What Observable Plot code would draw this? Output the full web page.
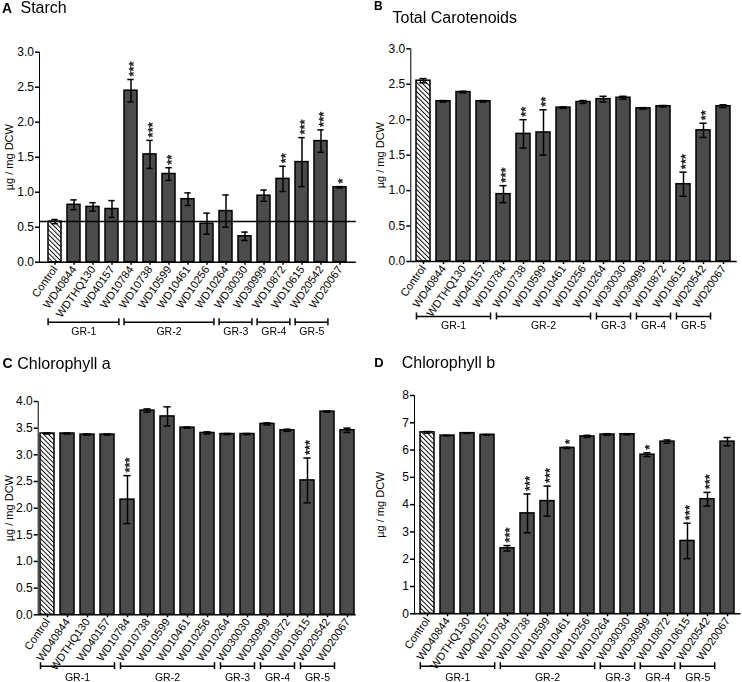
<!DOCTYPE html>
<html>
<head>
<meta charset="utf-8">
<script src="https://cdn.jsdelivr.net/npm/d3@7"></script>
<script src="https://cdn.jsdelivr.net/npm/@observablehq/plot@0.6"></script>
<style>
  body { margin: 0; background: #fff; font-family: "Liberation Sans", Arial, sans-serif; }
  #wrap { position: relative; width: 742px; height: 682px; overflow: hidden; background: #fff; }
  #wrap > svg { position: absolute; overflow: visible; }
</style>
</head>
<body>
<svg width="0" height="0" style="position:absolute">
  <defs>
    <pattern id="hatch" width="3.3" height="3.3" patternUnits="userSpaceOnUse" patternTransform="rotate(-45)">
      <rect width="3.3" height="3.3" fill="#fff"></rect>
      <line x1="0" y1="0" x2="0" y2="3.3" stroke="#000" stroke-width="1.9"></line>
    </pattern>
  </defs>
</svg>
<div id="wrap"></div>
<script>
// ---------------- data ----------------
const lines = ["Control","WD40844","WDTHQ130","WD40157","WD10784","WD10738","WD10599","WD10461","WD10256","WD10264","WD30030","WD30999","WD10872","WD10615","WD20542","WD20067"];

const starchMean = [0.58,0.82,0.79,0.76,2.45,1.54,1.26,0.90,0.55,0.73,0.37,0.95,1.19,1.43,1.73,1.07];
const starchSE   = [0.03,0.07,0.06,0.12,0.16,0.20,0.09,0.09,0.15,0.23,0.06,0.08,0.18,0.35,0.16,0.01];
const starchSig  = ["","","","","***","***","**","","","","","","**","***","***","*"];

const caroMean = [2.55,2.26,2.39,2.26,0.95,1.80,1.82,2.17,2.25,2.29,2.31,2.16,2.19,1.09,1.85,2.19];
const caroSE   = [0.03,0.01,0.01,0.01,0.12,0.20,0.32,0.01,0.02,0.04,0.02,0.01,0.01,0.17,0.10,0.02];
const caroSig  = ["","","","","***","**","**","","","","","","","***","**",""];

const chlaMean = [3.40,3.40,3.38,3.38,2.16,3.83,3.72,3.51,3.41,3.39,3.39,3.58,3.46,2.52,3.81,3.46];
const chlaSE   = [0.01,0.01,0.01,0.01,0.45,0.03,0.18,0.01,0.02,0.01,0.01,0.02,0.02,0.42,0.01,0.04];
const chlaSig  = ["","","","","***","","","","","","","","","***","",""];

const chlbMean = [6.65,6.53,6.62,6.56,2.40,3.68,4.13,6.08,6.50,6.57,6.58,5.83,6.31,2.67,4.20,6.31];
const chlbSE   = [0.03,0.01,0.01,0.01,0.10,0.71,0.55,0.02,0.04,0.03,0.02,0.07,0.06,0.65,0.25,0.15];
const chlbSig  = ["","","","","***","***","***","*","","","","*","","***","***",""];

const groupLabels = ["GR-1","GR-2","GR-3","GR-4","GR-5"];
const groupFirst  = ["Control","WD10784","WD10264","WD30999","WD10615"];
const groupLast   = ["WD40157","WD10256","WD30030","WD10872","WD20542"];

const ticks3 = [0,0.5,1,1.5,2,2.5,3];
const ticks4 = [0,0.5,1,1.5,2,2.5,3,3.5,4];
const ticks8 = [0,1,2,3,4,5,6,7,8];

const yLabel = "µg / mg DCW";
const panelTitles = ["Starch","Total Carotenoids","Chlorophyll a","Chlorophyll b"];
const panelLetters = ["A","B","C","D"];

// ---------------- layout ----------------
const FONT = '"Liberation Sans", Arial, sans-serif';
const W = 371, PI = 0.3;
const wrap = document.getElementById("wrap");

const panels = [
  {mean: starchMean, se: starchSE, sig: starchSig, ticks: ticks3, domain: [0,3], fmt: ".1f", controlLine: true,
   left: 0, top: 0, h: 342, mt: 51.7, mb: 80.3, ml: 39, mr: 15.2, po: 0.19, bDy: 60, lDy: 69.5},
  {mean: caroMean, se: caroSE, sig: caroSig, ticks: ticks3, domain: [0,3], fmt: ".1f", controlLine: false,
   left: 371, top: 0, h: 342, mt: 48.3, mb: 81, ml: 39.3, mr: 5.3, po: 0.25, bDy: 55, lDy: 64},
  {mean: chlaMean, se: chlaSE, sig: chlaSig, ticks: ticks4, domain: [0,4], fmt: ".1f", controlLine: false,
   left: 0, top: 340, h: 342, mt: 61, mb: 67.7, ml: 37.7, mr: 15.3, po: 0.1, bDy: 51.4, lDy: 62.4},
  {mean: chlbMean, se: chlbSE, sig: chlbSig, ticks: ticks8, domain: [0,8], fmt: "d", controlLine: false,
   left: 371, top: 340, h: 342, mt: 55, mb: 68.7, ml: 43, mr: 1.5, po: 0.1, bDy: 52.4, lDy: 63.4}
];

function makePanel(cfg) {
  const data = lines.map((name, i) => ({name, v: cfg.mean[i], e: cfg.se[i], sig: cfg.sig[i]}));
  const band = d3.scaleBand().domain(lines).range([cfg.ml, W - cfg.mr]).paddingInner(PI).paddingOuter(cfg.po);
  const bw = band.bandwidth(), step = band.step();
  const groups = groupLabels.map((label, i) => {
    const a = lines.indexOf(groupFirst[i]), b = lines.indexOf(groupLast[i]);
    const n = b - a + 1;
    const mid = n % 2 ? lines[a + (n - 1) / 2] : lines[a + n / 2 - 1];
    return {label, first: groupFirst[i], last: groupLast[i], mid, even: n % 2 === 0};
  });
  const stroke = 1.5;
  const marks = [
    Plot.barY(data.filter(d => d.name === "Control"), {x: "name", y: "v", fill: "url(#hatch)", stroke: "#000", strokeWidth: stroke}),
    Plot.barY(data.filter(d => d.name !== "Control"), {x: "name", y: "v", fill: "#4b4b4b", stroke: "#000", strokeWidth: stroke})
  ];
  if (cfg.controlLine) marks.push(Plot.ruleY([data[0].v], {stroke: "#000", strokeWidth: stroke}));
  marks.push(
    Plot.ruleX(data, {x: "name", y1: d => d.v - d.e, y2: d => d.v + d.e, stroke: "#000", strokeWidth: stroke}),
    Plot.tickY(data, {x: "name", y: d => d.v + d.e, insetLeft: bw * 0.24, insetRight: bw * 0.24, stroke: "#000", strokeWidth: stroke}),
    Plot.tickY(data, {x: "name", y: d => d.v - d.e, insetLeft: bw * 0.24, insetRight: bw * 0.24, stroke: "#000", strokeWidth: stroke}),
    Plot.ruleY([0], {stroke: "#000", strokeWidth: stroke}),
    // significance stars, written bottom-to-top
    Plot.text(data.filter(d => d.sig), {x: "name", y: d => d.v + d.e, text: "sig", rotate: -90, textAnchor: "start",
      dy: -3, dx: 2.5, fontSize: 13, fill: "#000", stroke: "#000", strokeWidth: 0.35}),
    // group brackets
    Plot.ruleY(groups, {x1: "first", x2: "last", y: () => 0, dy: cfg.bDy, stroke: "#000", strokeWidth: stroke}),
    Plot.ruleX(groups, {x: "first", y1: () => 0, y2: () => 0, dx: -bw / 2, dy: cfg.bDy, insetTop: -3.5, insetBottom: -3.5, stroke: "#000", strokeWidth: stroke}),
    Plot.ruleX(groups, {x: "last", y1: () => 0, y2: () => 0, dx: bw / 2, dy: cfg.bDy, insetTop: -3.5, insetBottom: -3.5, stroke: "#000", strokeWidth: stroke}),
    Plot.text(groups.filter(g => g.even), {x: "mid", y: () => 0, text: "label", dx: step / 2, dy: cfg.lDy, fontSize: 10.5, fill: "#000"}),
    Plot.text(groups.filter(g => !g.even), {x: "mid", y: () => 0, text: "label", dy: cfg.lDy, fontSize: 10.5, fill: "#000"})
  );
  const svg = Plot.plot({
    width: W, height: cfg.h,
    marginTop: cfg.mt, marginBottom: cfg.mb, marginLeft: cfg.ml, marginRight: cfg.mr,
    style: {fontFamily: FONT, fontSize: "11px", color: "#000", overflow: "visible", background: "transparent"},
    x: {type: "band", domain: lines, paddingInner: PI, paddingOuter: cfg.po, tickRotate: -55, tickSize: 3, tickPadding: 2, label: null},
    y: {domain: cfg.domain, ticks: cfg.ticks, tickFormat: cfg.fmt, tickSize: 4, tickPadding: 1.5,
        label: yLabel, labelAnchor: "center", labelArrow: false, labelOffset: cfg.ml - 5, line: true},
    marks
  });
  svg.style.left = cfg.left + "px";
  svg.style.top = cfg.top + "px";
  const s = d3.select(svg);
  s.selectAll('g[aria-label^="y-axis"], g[aria-label^="x-axis"]').attr("stroke-width", stroke);
  s.selectAll('g[aria-label^="y-axis"] text').attr("font-size", 12);
  s.selectAll('text').filter(function() { return this.textContent.trim().startsWith("µg"); })
    .attr("font-size", 11).text(yLabel);
  // render text marks in plain greyscale (avoid colour fringes on the rotated asterisks)
  s.selectAll('g[aria-label="text"]').style("filter", "grayscale(1)");
  wrap.appendChild(svg);
}
panels.forEach(makePanel);

// titles overlay
const titleSpec = [
  {lx: 2, ly: 12.5, ls: 14, tx: 20.5, ty: 13.3},
  {lx: 374, ly: 10, ls: 12, tx: 392.5, ty: 23},
  {lx: 2.5, ly: 368, ls: 14, tx: 17.3, ty: 369},
  {lx: 374.3, ly: 367, ls: 13, tx: 401.7, ty: 368}
];
const ov = d3.select(wrap).append("svg")
  .attr("width", 742).attr("height", 682)
  .style("left", "0px").style("top", "0px").style("pointer-events", "none")
  .attr("font-family", FONT);
titleSpec.forEach((t, i) => {
  ov.append("text").attr("x", t.lx).attr("y", t.ly).attr("font-size", t.ls).attr("font-weight", "bold").text(panelLetters[i]);
  ov.append("text").attr("x", t.tx).attr("y", t.ty).attr("font-size", 16).text(panelTitles[i]);
});
</script>
</body>
</html>
